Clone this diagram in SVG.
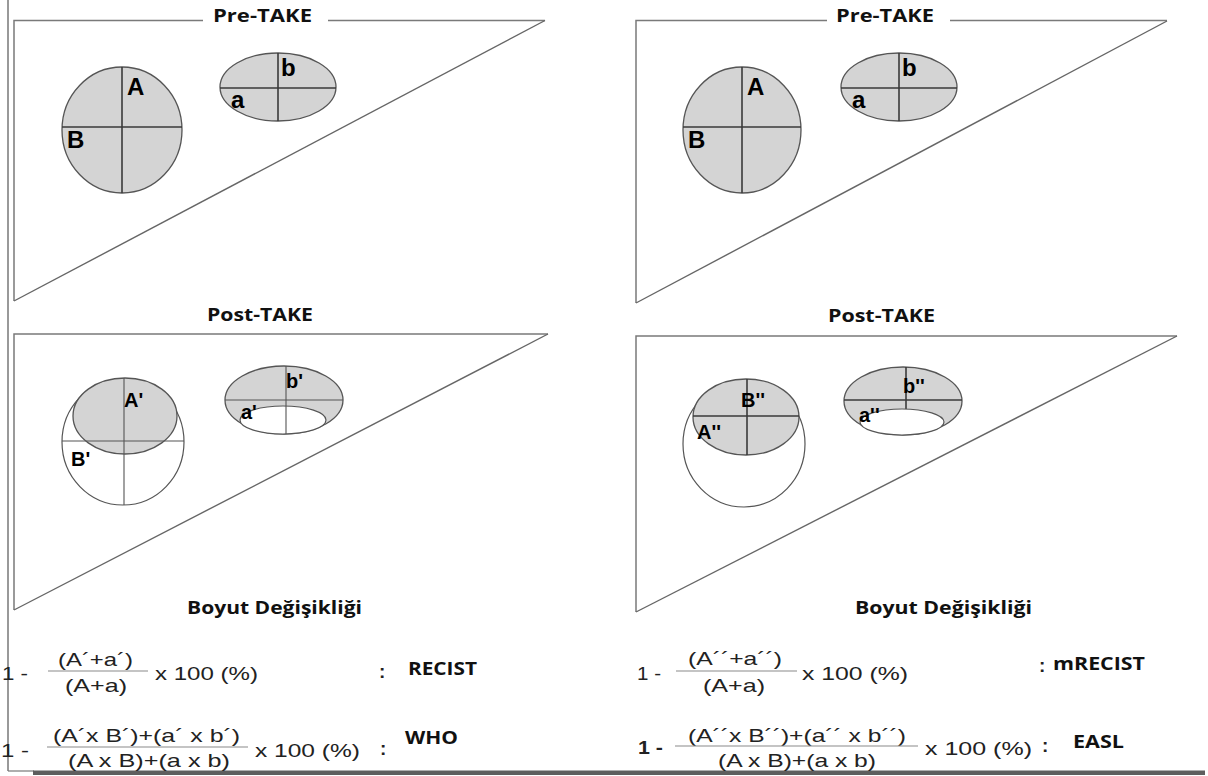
<svg xmlns="http://www.w3.org/2000/svg" width="1208" height="776" viewBox="0 0 1208 776">
  <style>
    .edge { fill: none; stroke: #7a7a7a; stroke-width: 1.5; }
    .hyp { fill: none; stroke: #666; stroke-width: 1.4; }
    .lesion { fill: #d4d4d4; stroke: #555; stroke-width: 1.3; }
    .outline { fill: #fff; stroke: #555; stroke-width: 1.2; }
    .hole { fill: #fff; stroke: #555; stroke-width: 1.2; }
    .axis { stroke: #3a3a3a; stroke-width: 1.6; }
    .axis-thin { stroke: #555; stroke-width: 1.1; }
    .bar { stroke: #8a8a8a; stroke-width: 1.2; }
    .lbl { font-family: "Liberation Sans", Arial, sans-serif; font-weight: bold; font-size: 24px; fill: #000; }
    .lbl-s { font-family: "Liberation Sans", Arial, sans-serif; font-weight: bold; font-size: 20px; fill: #000; }
    .title { font-family: "Open Sans", "Liberation Sans", sans-serif; font-weight: bold; font-size: 18px; fill: #111; }
    .f { font-family: "Liberation Sans", Arial, sans-serif; font-size: 19px; fill: #222; }
    .colon { font-family: "Liberation Sans", Arial, sans-serif; font-size: 19px; font-weight: bold; fill: #222; }
    .name { font-family: "Open Sans", "Liberation Sans", sans-serif; font-weight: bold; font-size: 18px; fill: #111; }
  </style>

  <rect x="0" y="0" width="1208" height="776" fill="#fff"/>

  <!-- outer frame: left rule and bottom shadow bar -->
  <g id="frame">
    <line x1="8" y1="0" x2="8" y2="771" stroke="#777" stroke-width="1.5"/>
    <line x1="8" y1="771" x2="34" y2="771" stroke="#777" stroke-width="1.2"/>
    <rect x="33" y="770.5" width="1172" height="4.5" fill="#5e5e5e"/>
  </g>

  <!-- pre-treatment, left column -->
  <g id="pre-left">
    <path class="edge" d="M203,20.5 H14 V301"/>
    <line class="edge" x1="328" y1="20.5" x2="545" y2="20.5"/>
    <line class="hyp" x1="14" y1="301" x2="545" y2="20.5"/>
    <text class="title" x="213" y="22" textLength="99" lengthAdjust="spacingAndGlyphs">Pre-TAKE</text>
    <ellipse class="lesion" cx="122" cy="130" rx="60" ry="63"/>
    <line class="axis" x1="62" y1="127" x2="182" y2="127"/>
    <line class="axis" x1="122" y1="67" x2="122" y2="193"/>
    <text class="lbl" x="127" y="95">A</text>
    <text class="lbl" x="67" y="148">B</text>
    <ellipse class="lesion" cx="278" cy="87" rx="58" ry="34"/>
    <line class="axis" x1="220" y1="88" x2="336" y2="88"/>
    <line class="axis" x1="278" y1="53" x2="278" y2="121"/>
    <text class="lbl" x="281" y="76">b</text>
    <text class="lbl" x="231" y="108">a</text>
  </g>

  <!-- pre-treatment, right column -->
  <g id="pre-right">
    <path class="edge" d="M827,20.5 H636 V303"/>
    <line class="edge" x1="950" y1="20.5" x2="1167" y2="20.5"/>
    <line class="hyp" x1="636" y1="303" x2="1167" y2="21"/>
    <text class="title" x="836" y="22" textLength="98" lengthAdjust="spacingAndGlyphs">Pre-TAKE</text>
    <ellipse class="lesion" cx="742" cy="130" rx="59" ry="63"/>
    <line class="axis" x1="683" y1="127" x2="801" y2="127"/>
    <line class="axis" x1="742" y1="67" x2="742" y2="193"/>
    <text class="lbl" x="747" y="95">A</text>
    <text class="lbl" x="688" y="148">B</text>
    <ellipse class="lesion" cx="899" cy="87" rx="58" ry="34"/>
    <line class="axis" x1="841" y1="88" x2="957" y2="88"/>
    <line class="axis" x1="899" y1="53" x2="899" y2="121"/>
    <text class="lbl" x="902" y="76">b</text>
    <text class="lbl" x="852" y="108">a</text>
  </g>

  <!-- post-treatment, left column (RECIST / WHO) -->
  <g id="post-left">
    <text class="title" x="207" y="321" textLength="106" lengthAdjust="spacingAndGlyphs">Post-TAKE</text>
    <path class="edge" d="M548,334 H14 V610"/>
    <line class="hyp" x1="14" y1="610" x2="548" y2="334"/>
    <ellipse class="outline" cx="123" cy="442" rx="61" ry="63"/>
    <ellipse class="lesion" cx="125" cy="416" rx="52" ry="38"/>
    <line class="axis-thin" x1="62" y1="441" x2="184" y2="441"/>
    <line class="axis-thin" x1="124" y1="378" x2="124" y2="505"/>
    <text class="lbl-s" x="124" y="407">A'</text>
    <text class="lbl-s" x="71" y="466">B'</text>
    <ellipse class="lesion" cx="284" cy="400" rx="59" ry="34"/>
    <ellipse class="hole" cx="283" cy="420" rx="43" ry="14"/>
    <line class="axis-thin" x1="225" y1="400" x2="343" y2="400"/>
    <line class="axis-thin" x1="286" y1="366" x2="286" y2="434"/>
    <text class="lbl-s" x="286" y="388">b'</text>
    <text class="lbl-s" x="241" y="419">a'</text>
    <text class="name" x="187" y="614" textLength="175" lengthAdjust="spacingAndGlyphs">Boyut Değişikliği</text>
  </g>

  <!-- post-treatment, right column (mRECIST / EASL) -->
  <g id="post-right">
    <text class="title" x="828" y="322" textLength="107" lengthAdjust="spacingAndGlyphs">Post-TAKE</text>
    <path class="edge" d="M1177,336 H636 V612"/>
    <line class="hyp" x1="636" y1="612" x2="1177" y2="336"/>
    <ellipse class="outline" cx="744" cy="444" rx="61" ry="63"/>
    <ellipse class="lesion" cx="746" cy="417" rx="53" ry="38"/>
    <line class="axis" x1="693" y1="416" x2="799" y2="416"/>
    <line class="axis" x1="747" y1="379" x2="747" y2="455"/>
    <text class="lbl-s" x="741" y="407">B''</text>
    <text class="lbl-s" x="697" y="439">A''</text>
    <ellipse class="lesion" cx="903" cy="401" rx="59" ry="34"/>
    <line class="axis" x1="844" y1="400" x2="962" y2="400"/>
    <line class="axis" x1="906" y1="367" x2="906" y2="409"/>
    <ellipse class="hole" cx="902" cy="422" rx="42" ry="13"/>
    <text class="lbl-s" x="903" y="393">b''</text>
    <text class="lbl-s" x="859" y="422">a''</text>
    <text class="name" x="855" y="614" textLength="177" lengthAdjust="spacingAndGlyphs">Boyut Değişikliği</text>
  </g>

  <!-- response formulas -->
  <g id="formula-recist">
    <text class="f" x="2" y="680" textLength="26" lengthAdjust="spacingAndGlyphs">1 -</text>
    <text class="f" x="58" y="666" textLength="75" lengthAdjust="spacingAndGlyphs">(A´+a´)</text>
    <line class="bar" x1="48" y1="671" x2="148" y2="671"/>
    <text class="f" x="65" y="692" textLength="62" lengthAdjust="spacingAndGlyphs">(A+a)</text>
    <text class="f" x="155" y="680" textLength="103" lengthAdjust="spacingAndGlyphs">x 100 (%)</text>
    <text class="colon" x="379" y="678">:</text>
    <text class="name" x="408" y="675" textLength="69" lengthAdjust="spacingAndGlyphs">RECIST</text>
  </g>
  <g id="formula-who">
    <text class="f" x="1" y="757" textLength="28" lengthAdjust="spacingAndGlyphs">1 -</text>
    <text class="f" x="53" y="742" textLength="187" lengthAdjust="spacingAndGlyphs">(A´x B´)+(a´ x b´)</text>
    <line class="bar" x1="47" y1="747" x2="248" y2="747"/>
    <text class="f" x="68" y="767" textLength="162" lengthAdjust="spacingAndGlyphs">(A x B)+(a x b)</text>
    <text class="f" x="255" y="757" textLength="105" lengthAdjust="spacingAndGlyphs">x 100 (%)</text>
    <text class="colon" x="380" y="755">:</text>
    <text class="name" x="405" y="744" textLength="53" lengthAdjust="spacingAndGlyphs">WHO</text>
  </g>
  <g id="formula-mrecist">
    <text class="f" x="637" y="680" textLength="24" lengthAdjust="spacingAndGlyphs">1 -</text>
    <text class="f" x="688" y="665" textLength="94" lengthAdjust="spacingAndGlyphs">(A´´+a´´)</text>
    <line class="bar" x1="676" y1="671" x2="797" y2="671"/>
    <text class="f" x="703" y="692" textLength="62" lengthAdjust="spacingAndGlyphs">(A+a)</text>
    <text class="f" x="802" y="680" textLength="106" lengthAdjust="spacingAndGlyphs">x 100 (%)</text>
    <text class="colon" x="1039" y="672">:</text>
    <text class="name" x="1053" y="670" textLength="92" lengthAdjust="spacingAndGlyphs">mRECIST</text>
  </g>
  <g id="formula-easl">
    <text class="f" x="638" y="754" textLength="25" lengthAdjust="spacingAndGlyphs" font-weight="bold">1 -</text>
    <text class="f" x="688" y="742" textLength="218" lengthAdjust="spacingAndGlyphs">(A´´x B´´)+(a´´ x b´´)</text>
    <line class="bar" x1="675" y1="746" x2="918" y2="746"/>
    <text class="f" x="718" y="767" textLength="158" lengthAdjust="spacingAndGlyphs">(A x B)+(a x b)</text>
    <text class="f" x="925" y="755" textLength="107" lengthAdjust="spacingAndGlyphs">x 100 (%)</text>
    <text class="colon" x="1042" y="752">:</text>
    <text class="name" x="1073" y="748" textLength="51" lengthAdjust="spacingAndGlyphs">EASL</text>
  </g>
</svg>
